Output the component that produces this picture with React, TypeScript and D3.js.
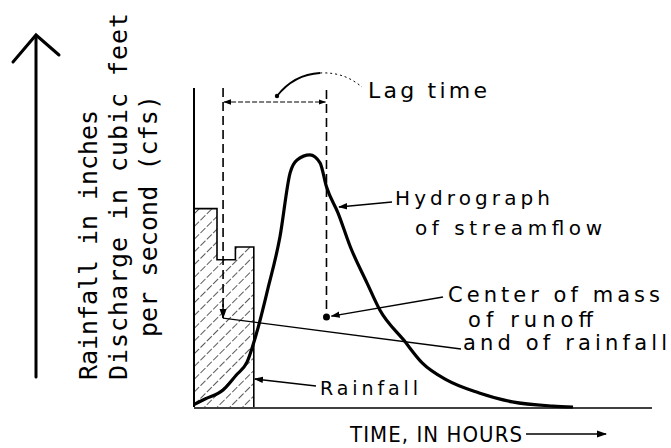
import React from 'react';
import * as d3 from 'd3';

// hydrograph of streamflow (hours, cfs)
const hydroHours = [0, 0.6, 1.58, 2.3, 2.88, 3.42, 4.0, 4.67, 5.22, 5.6, 6.3, 6.85, 7.2, 7.83, 8.5, 9.4, 10.1, 11.4, 12.4, 13.75, 15.5, 17.3, 19.5, 20.6];
const hydroCfs = [8, 25, 53, 100, 140, 235, 366, 531, 731, 772, 788, 763, 688, 606, 500, 388, 303, 209, 138, 84, 44, 16, 3, 0];

// rainfall blocks (hours, inches)
const rainStart = [0, 1.25, 2.25];
const rainEnd = [1.25, 2.25, 3.25];
const rainInches = [1.24, 0.92, 1.0];

// centres of mass
const rainCentroid = { t: 1.58, q: 278 };
const runoffCentroid = { t: 7.2, q: 281 };

const yLabelLines = ['Rainfall in inches', 'Discharge in cubic feet', 'per second (cfs)'];

export default function App() {
  const W = 671;
  const H = 448;

  const x = d3.scaleLinear().domain([0, 25]).range([194, 654]); // hours
  const yQ = d3.scaleLinear().domain([0, 1000]).range([407, 87]); // cfs
  const yR = d3.scaleLinear().domain([0, 2]).range([407, 87]); // inches

  const hydro = hydroHours.map((t, i) => ({ t, q: hydroCfs[i] }));
  const hydroLine = d3.line<{ t: number; q: number }>()
    .curve(d3.curveMonotoneX)
    .x((d) => x(d.t))
    .y((d) => yQ(d.q));

  // outline of the rainfall steps
  const outlinePts: [number, number][] = [[x(0), yR(0)]];
  rainStart.forEach((s, i) => {
    outlinePts.push([x(s), yR(rainInches[i])]);
    outlinePts.push([x(rainEnd[i]), yR(rainInches[i])]);
  });
  outlinePts.push([x(rainEnd[rainEnd.length - 1]), yR(0)]);
  const outline = d3.line()(outlinePts) as string;

  const top = yQ(1000) + 1;
  const lagY = 102;
  const rcx = x(rainCentroid.t);
  const rcy = yQ(rainCentroid.q);
  const ocx = x(runoffCentroid.t);
  const ocy = yQ(runoffCentroid.q);

  const font = '"DejaVu Sans", Arial, sans-serif';

  return (
    <svg width={W} height={H} style={{ position: 'absolute', left: 0, top: 0, background: '#fff' }}>
      <defs>
        <pattern id="hatch" width="9" height="9" patternUnits="userSpaceOnUse" patternTransform="rotate(45)">
          <line x1="0" y1="0" x2="0" y2="9" stroke="#000" strokeWidth="1.3" strokeDasharray="5,2" />
        </pattern>
        <marker id="arr" viewBox="0 0 10 10" refX="9" refY="5" markerWidth="7" markerHeight="7" orient="auto-start-reverse">
          <path d="M0,1.5 L10,5 L0,8.5 z" fill="#000" />
        </marker>
      </defs>

      {/* big y arrow */}
      <g stroke="#000" strokeWidth={3} fill="none" strokeLinecap="round">
        <line x1={36} y1={377} x2={36} y2={36} />
        <path d="M13,62 L36,35 L59,55" />
      </g>

      {/* y labels */}
      {yLabelLines.map((s, i) => {
        const bx = [97, 127, 157][i];
        const by = [380, 380, 337][i];
        const len = [270, 367, 242][i];
        return (
          <text key={s} transform={`translate(${bx},${by}) rotate(-90)`} fontFamily='"DejaVu Sans Mono", monospace'
            fontSize={25} textLength={len} lengthAdjust="spacing" fill="#000">{s}</text>
        );
      })}

      {/* rainfall hatched blocks */}
      {rainStart.map((s, i) => (
        <rect key={i} x={x(s)} y={yR(rainInches[i])} width={x(rainEnd[i]) - x(s)} height={yR(0) - yR(rainInches[i])}
          fill="url(#hatch)" />
      ))}
      <path d={outline} fill="none" stroke="#000" strokeWidth={1.6} />

      {/* axes */}
      <line x1={x(0)} y1={top} x2={x(0)} y2={yQ(0)} stroke="#000" strokeWidth={2} />
      <line x1={x(0)} y1={yQ(0) + 1} x2={652} y2={yQ(0) + 1} stroke="#000" strokeWidth={1.5} />

      {/* lag time construction */}
      <g stroke="#000" strokeWidth={1.6} strokeDasharray="9,5" fill="none">
        <line x1={rcx} y1={top} x2={rcx} y2={rcy} />
        <line x1={ocx} y1={top + 2} x2={ocx} y2={ocy} />
      </g>
      <line x1={rcx + 1} y1={lagY} x2={ocx - 1} y2={lagY} stroke="#000" strokeWidth={1.1} strokeDasharray="5,2"
        markerStart="url(#arr)" markerEnd="url(#arr)" />
      <path d="M277,96 C288,82 302,74 320,73" fill="none" stroke="#000" strokeWidth={1.8} />
      <path d="M320,73 C340,72 352,79 362,87" fill="none" stroke="#000" strokeWidth={1} strokeDasharray="2,3" />
      <circle cx={277} cy={96} r={2.2} fill="#000" />
      <text x={368} y={98} fontFamily={font} fontSize={22} textLength={119} lengthAdjust="spacing">Lag time</text>

      {/* hydrograph */}
      <path d={hydroLine(hydro) as string} fill="none" stroke="#000" strokeWidth={3.2} strokeLinejoin="round" />

      {/* centre of mass marks */}
      <circle cx={ocx} cy={ocy} r={3.5} fill="#000" />
      <line x1={443} y1={297} x2={ocx + 5} y2={ocy - 1} stroke="#000" strokeWidth={1.3} markerEnd="url(#arr)" />
      <line x1={461} y1={349} x2={rcx} y2={rcy} stroke="#000" strokeWidth={1.3} />
      <line x1={rcx} y1={rcy - 14} x2={rcx} y2={rcy} stroke="#000" strokeWidth={1.5} markerEnd="url(#arr)" />

      {/* leaders */}
      <line x1={392} y1={202} x2={339} y2={207} stroke="#000" strokeWidth={1.3} markerEnd="url(#arr)" />
      <line x1={316} y1={386} x2={x(3.25) + 1} y2={379} stroke="#000" strokeWidth={1.3} markerEnd="url(#arr)" />

      {/* labels */}
      <g fontFamily={font} fill="#000">
        <text x={395} y={205} fontSize={20} textLength={155} lengthAdjust="spacing">Hydrograph</text>
        <text x={415} y={235} fontSize={20} textLength={187} lengthAdjust="spacing">of streamflow</text>
        <text x={448} y={302} fontSize={21} textLength={212} lengthAdjust="spacing">Center of mass</text>
        <text x={468} y={327} fontSize={21} textLength={125} lengthAdjust="spacing">of runoff</text>
        <text x={463} y={350} fontSize={21} textLength={204} lengthAdjust="spacing">and of rainfall</text>
        <text x={320} y={395} fontSize={19} textLength={98} lengthAdjust="spacing">Rainfall</text>
        <text x={350} y={442} fontSize={22} fontStretch="condensed" textLength={172} lengthAdjust="spacing">TIME, IN HOURS</text>
      </g>
      <line x1={526} y1={434} x2={606} y2={434} stroke="#000" strokeWidth={1.5} markerEnd="url(#arr)" />
    </svg>
  );
}
